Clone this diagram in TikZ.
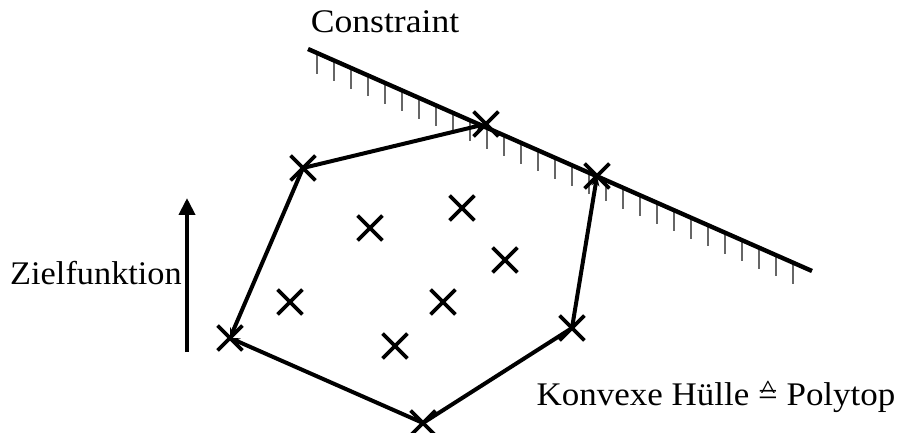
\documentclass[tikz,border=0pt]{standalone}
\usepackage{fontspec}
\usepackage{graphicx}
\setmainfont{Liberation Serif}
\newcommand\corrsym{\ooalign{=\cr\hfil\raisebox{0.23em}{\scalebox{0.9}[0.8]{\textasciicircum}}\hfil\cr}}
\usetikzlibrary{shapes.misc,arrows.meta,calc}
\begin{document}
\begin{tikzpicture}[x=1pt,y=-1pt,
  xmark/.style={cross out,draw,line width=3.8pt,minimum size=21pt,inner sep=0pt,line cap=butt},
  hull/.style={line width=4pt},
  hulltip/.style={hull,-{Stealth[length=10pt,width=8pt]}},
  hatch/.style={line width=1.2pt,black!60},
  constr/.style={line width=4.4pt},
  lbl/.style={font=\fontsize{33}{33}\selectfont,inner sep=0pt}]
\useasboundingbox (0,0) rectangle (898,433);
% constraint line
\coordinate (c1) at (308,49);
\coordinate (c2) at (812,271);
\foreach \x in {317,334,...,800}{
  \pgfmathsetmacro\t{(\x-308)/504}
  \draw[hatch] ($(c1)!\t!(c2)$) -- ++(0,21);
}
\draw[constr] (c1) -- (c2);
% hull vertices
\node[xmark] (v1) at (230,338) {};
\node[xmark] (v2) at (303,168) {};
\node[xmark] (v3) at (486,124) {};
\node[xmark] (v4) at (597,176) {};
\node[xmark] (v5) at (572,328) {};
\node[xmark] (v6) at (423,423) {};
% interior points
\node[xmark] (p1) at (370,228) {};
\node[xmark] (p2) at (462,208) {};
\node[xmark] (p3) at (505,260) {};
\node[xmark] (p4) at (290,302) {};
\node[xmark] (p5) at (443,302) {};
\node[xmark] (p6) at (395,346) {};
% hull edges
\draw[hulltip] (v2.center) -- (v1.center);
\draw[hulltip] (v6.center) -- (v1.center);
\draw[hulltip] (v2.center) -- (v3.center);
\draw[hulltip] (v5.center) -- (v4.center);
\draw[hull] (v5.center) -- (v6.center);
% objective arrow
\coordinate (a1) at (187,352);
\coordinate (a2) at (187,198);
\draw[line width=4pt,-{Triangle[length=17pt,width=16pt]}] (a1) -- (a2);
% labels
\node[lbl,xscale=1.04] (zf) at (96,273) {Zielfunktion};
\node[lbl,xscale=1.08] (ct) at (385,22) {Constraint};
\node[lbl,xscale=1.06] (kh) at (716,398) {Konvexe Hülle \corrsym{} Polytop};
\end{tikzpicture}
\end{document}
